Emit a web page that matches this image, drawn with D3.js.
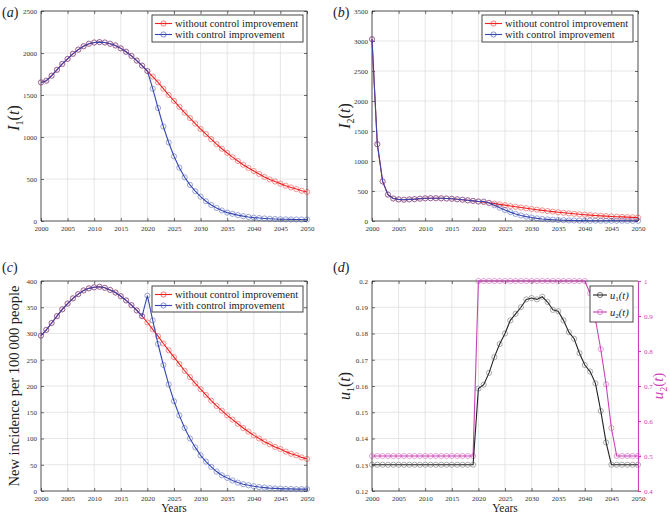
<!DOCTYPE html>
<html><head><meta charset="utf-8">
<script src="https://cdn.jsdelivr.net/npm/d3@7"></script>
<style>
body{margin:0;background:#fff;}
svg{display:block;}
svg text{font-family:"Liberation Serif","Times New Roman",serif;}
</style></head>
<body><svg id="c" width="670" height="513" font-family="Liberation Serif, serif"></svg>
<script>
const years = [2000,2001,2002,2003,2004,2005,2006,2007,2008,2009,2010,2011,2012,2013,2014,2015,2016,2017,2018,2019,2020,2021,2022,2023,2024,2025,2026,2027,2028,2029,2030,2031,2032,2033,2034,2035,2036,2037,2038,2039,2040,2041,2042,2043,2044,2045,2046,2047,2048,2049,2050];
const xTicks = [2000,2005,2010,2015,2020,2025,2030,2035,2040,2045,2050];

const i1Without = [1650,1670,1730,1800,1870,1930,1990,2040,2080,2110,2125,2130,2125,2110,2090,2055,2015,1965,1910,1850,1785,1720,1650,1575,1500,1430,1360,1290,1225,1160,1095,1035,975,915,860,810,760,715,670,630,595,560,525,495,470,445,420,400,380,360,345];
const i1With = [1650,1670,1730,1800,1870,1930,1990,2040,2080,2110,2125,2130,2125,2110,2090,2055,2015,1965,1910,1850,1785,1575,1345,1125,935,770,635,520,430,355,290,235,190,155,125,100,85,70,58,48,40,35,30,26,23,21,20,19,18,18,18];
const i1Ticks = [0,500,1000,1500,2000,2500];

const i2Without = [3030,1280,660,440,375,360,355,360,365,372,378,380,380,378,375,370,362,355,345,335,325,315,303,290,277,264,250,237,224,212,200,188,177,166,156,146,137,128,120,112,105,98,92,86,81,76,72,68,64,61,58];
const i2With = [3030,1280,660,440,375,360,355,360,365,372,378,380,380,378,375,370,362,355,345,335,325,325,300,262,222,183,148,118,93,73,57,44,34,27,21,16,13,10,8,7,6,5,5,4,4,4,4,4,3,3,3];
const i2Ticks = [0,500,1000,1500,2000,2500,3000,3500];

const incWithout = [296,307,320,333,346,357,367,375,382,386,388,389,387,383,378,371,363,354,344,333,321,308,295,281,268,255,242,229,217,205,194,183,172,162,153,144,136,128,120,113,106,100,94,89,84,80,75,71,68,64,61];
const incWith = [296,307,320,333,346,357,367,375,382,386,388,389,387,383,378,371,363,354,344,333,372,325,280,240,203,171,144,120,100,83,68,56,46,37,30,25,20,16,13,11,9,7.5,6.5,5.5,5,4.5,4,4,3.5,3.5,3.5];
const incTicks = [0,50,100,150,200,250,300,350,400];

const u1 = [0.13,0.13,0.13,0.13,0.13,0.13,0.13,0.13,0.13,0.13,0.13,0.13,0.13,0.13,0.13,0.13,0.13,0.13,0.13,0.13,0.159,0.1605,0.165,0.171,0.176,0.180,0.185,0.1875,0.190,0.193,0.1935,0.193,0.194,0.192,0.189,0.1885,0.185,0.1805,0.178,0.1725,0.168,0.1655,0.161,0.1505,0.1385,0.13,0.13,0.13,0.13,0.13,0.13];
const u2 = [0.5,0.5,0.5,0.5,0.5,0.5,0.5,0.5,0.5,0.5,0.5,0.5,0.5,0.5,0.5,0.5,0.5,0.5,0.5,0.5,1,1,1,1,1,1,1,1,1,1,1,1,1,1,1,1,1,1,1,1,1,0.965,0.89,0.805,0.705,0.58,0.5,0.5,0.5,0.5,0.5];
const u1Ticks = [0.12,0.13,0.14,0.15,0.16,0.17,0.18,0.19,0.2];
const u2Ticks = [0.4,0.5,0.6,0.7,0.8,0.9,1];

const seriesNames = ["without control improvement","with control improvement"];
const RED = "#f02020", BLUE = "#3548b0", MAG = "#cc40b4", BLK = "#222";
const FONT = "Liberation Serif, serif";

const svg = d3.select("#c");
const TICKFS = "7px";

function fmt(v){ return String(+v.toFixed(4)); }

function panel(o){
  const g = svg.append("g");
  const x = d3.scaleLinear().domain([2000,2050]).range([o.x0,o.x1]);
  const y = d3.scaleLinear().domain(o.yDom).range([o.y1,o.y0]);
  g.selectAll(".vg").data(xTicks).join("line")
    .attr("x1",d=>x(d)).attr("x2",d=>x(d)).attr("y1",o.y0).attr("y2",o.y1)
    .attr("stroke","#e0e0e0").attr("stroke-width",0.8);
  g.selectAll(".hg").data(o.yTicks).join("line")
    .attr("y1",d=>y(d)).attr("y2",d=>y(d)).attr("x1",o.x0).attr("x2",o.x1)
    .attr("stroke","#e0e0e0").attr("stroke-width",0.8);
  const ax = (sel)=>{ sel.attr("font-family",FONT); sel.select(".domain").remove(); sel.selectAll("line").attr("stroke","#333").attr("stroke-width",0.7); sel.selectAll("text").attr("font-size",TICKFS).attr("fill","#333").attr("font-family",FONT); };
  g.append("g").attr("transform",`translate(0,${o.y1})`)
    .call(d3.axisBottom(x).tickValues(xTicks).tickFormat(d3.format("d")).tickSizeInner(-3).tickSizeOuter(0).tickPadding(5.5)).call(ax);
  g.append("g").attr("transform",`translate(0,${o.y0})`)
    .call(d3.axisTop(x).tickValues(xTicks).tickFormat("").tickSizeInner(-3).tickSizeOuter(0)).call(ax);
  g.append("g").attr("transform",`translate(${o.x0},0)`)
    .call(d3.axisLeft(y).tickValues(o.yTicks).tickFormat(fmt).tickSizeInner(-3).tickSizeOuter(0).tickPadding(4)).call(ax);
  if(!o.right){
    g.append("g").attr("transform",`translate(${o.x1},0)`)
      .call(d3.axisRight(y).tickValues(o.yTicks).tickFormat("").tickSizeInner(-3).tickSizeOuter(0)).call(ax);
  }
  g.append("path").attr("d",`M${o.x0},${o.y0}H${o.x1}` + (o.right?"":`V${o.y1}`) + `M${o.x0},${o.y0}V${o.y1}H${o.x1}`)
    .attr("fill","none").attr("stroke","#333").attr("stroke-width",0.8);
  return {g,x,y};
}

function drawSeries(g,x,y,vals,color,mcolor){
  const line = d3.line().x((d,i)=>x(years[i])).y(d=>y(d));
  g.append("path").datum(vals).attr("d",line).attr("fill","none").attr("stroke",color).attr("stroke-width",1.1);
  g.append("g").selectAll("circle").data(vals).join("circle")
    .attr("cx",(d,i)=>x(years[i])).attr("cy",d=>y(d)).attr("r",2.6)
    .attr("fill","none").attr("stroke",mcolor||color).attr("stroke-width",0.6).attr("stroke-opacity",0.8);
}

function legend(x0,y0,w,h,items,fs){
  const g = svg.append("g").attr("font-family",FONT);
  g.append("rect").attr("x",x0).attr("y",y0).attr("width",w).attr("height",h)
    .attr("fill","#fff").attr("stroke","#333").attr("stroke-width",0.9);
  items.forEach((it)=>{
    const yy = y0 + it.dy;
    g.append("line").attr("x1",x0+3).attr("x2",x0+it.lw).attr("y1",yy).attr("y2",yy).attr("stroke",it.color).attr("stroke-width",1.1);
    g.append("circle").attr("cx",x0+3+(it.lw-3)/2).attr("cy",yy).attr("r",2.6).attr("fill","none").attr("stroke",it.color).attr("stroke-width",0.6);
    const t = g.append("text").attr("x",x0+it.lw+3).attr("y",yy+3.5).attr("font-size",fs).attr("fill","#222").attr("font-family",FONT);
    it.text(t);
  });
}

{
  const p = panel({x0:41,x1:307,y0:11,y1:221,yDom:[0,2500],yTicks:i1Ticks});
  drawSeries(p.g,p.x,p.y,i1Without,RED);
  drawSeries(p.g,p.x,p.y,i1With,BLUE);
}
{
  const p = panel({x0:372,x1:638,y0:11,y1:221,yDom:[0,3500],yTicks:i2Ticks});
  drawSeries(p.g,p.x,p.y,i2Without,RED);
  drawSeries(p.g,p.x,p.y,i2With,BLUE);
}
{
  const p = panel({x0:41,x1:307,y0:281,y1:491,yDom:[0,400],yTicks:incTicks});
  drawSeries(p.g,p.x,p.y,incWithout,RED);
  drawSeries(p.g,p.x,p.y,incWith,BLUE);
}
{
  const p = panel({x0:372,x1:638,y0:281,y1:491,yDom:[0.12,0.2],yTicks:u1Ticks,right:true});
  const yR = d3.scaleLinear().domain([0.4,1]).range([491,281]);
  drawSeries(p.g,p.x,yR,u2,MAG);
  drawSeries(p.g,p.x,p.y,u1,BLK,"#555");
  const ra = p.g.append("g").attr("transform","translate(638,0)").attr("font-family",FONT)
    .call(d3.axisRight(yR).tickValues(u2Ticks).tickFormat(fmt).tickSizeInner(3).tickSizeOuter(0).tickPadding(3));
  ra.attr("font-family",FONT);
  ra.select(".domain").attr("stroke",MAG).attr("stroke-width",1);
  ra.selectAll("line").attr("stroke",MAG);
  ra.selectAll("text").attr("font-size",TICKFS).attr("fill",MAG).attr("font-family",FONT);
}

const legItems = [
  {dy:8.5,lw:20,color:RED,text:t=>t.text(seriesNames[0])},
  {dy:19.5,lw:20,color:BLUE,text:t=>t.text(seriesNames[1])}
];
legend(152,15,151,27,legItems,"10.5px");
legend(482,15,151,27,legItems,"10.5px");
legend(152,286,151,26,legItems,"10.5px");
legend(590,286,43,36,[
  {dy:9,lw:17,color:BLK,text:t=>{t.attr("font-style","italic").text("u"); t.append("tspan").attr("font-style","normal").attr("font-size","7px").attr("dy",2.5).text("1"); t.append("tspan").attr("dy",-2.5).text("(t)");}},
  {dy:26,lw:17,color:MAG,text:t=>{t.attr("font-style","italic").text("u"); t.append("tspan").attr("font-style","normal").attr("font-size","7px").attr("dy",2.5).text("2"); t.append("tspan").attr("dy",-2.5).text("(t)");}}
],"10.5px");

[["(a)",2,17],["(b)",333,17],["(c)",2,272],["(d)",333,272]].forEach(([s,x,y])=>{
  const t = svg.append("text").attr("x",x).attr("y",y).attr("font-size","14px").attr("fill","#222").attr("font-family",FONT);
  t.append("tspan").text("(");
  t.append("tspan").attr("font-style","italic").text(s[1]);
  t.append("tspan").text(")");
});

function subLabel(x,y,letter,sub,color,fs){
  const t = svg.append("text").attr("transform",`translate(${x},${y}) rotate(-90)`).attr("text-anchor","middle")
    .attr("font-size",fs||"16px").attr("fill",color||"#222").attr("font-family",FONT);
  t.append("tspan").attr("font-style","italic").text(letter);
  t.append("tspan").attr("font-size","10px").attr("dy",4).text(sub);
  t.append("tspan").attr("dy",-4).text("(");
  t.append("tspan").attr("font-style","italic").text("t");
  t.append("tspan").text(")");
}
subLabel(19,118,"I","1");
subLabel(350,116,"I","2");
subLabel(350,386,"u","1");
subLabel(663,386,"u","2",MAG,"15px");
svg.append("text").attr("transform","translate(19,386) rotate(-90)").attr("text-anchor","middle").attr("font-family",FONT)
  .attr("font-size","14.5px").attr("fill","#222").text("New incidence per 100\u2009000 people");
svg.append("text").attr("x",174).attr("y",512).attr("text-anchor","middle").attr("font-size","11.5px").attr("fill","#222").attr("font-family",FONT).text("Years");
svg.append("text").attr("x",505).attr("y",512).attr("text-anchor","middle").attr("font-size","11.5px").attr("fill","#222").attr("font-family",FONT).text("Years");
</script>
</body></html>
